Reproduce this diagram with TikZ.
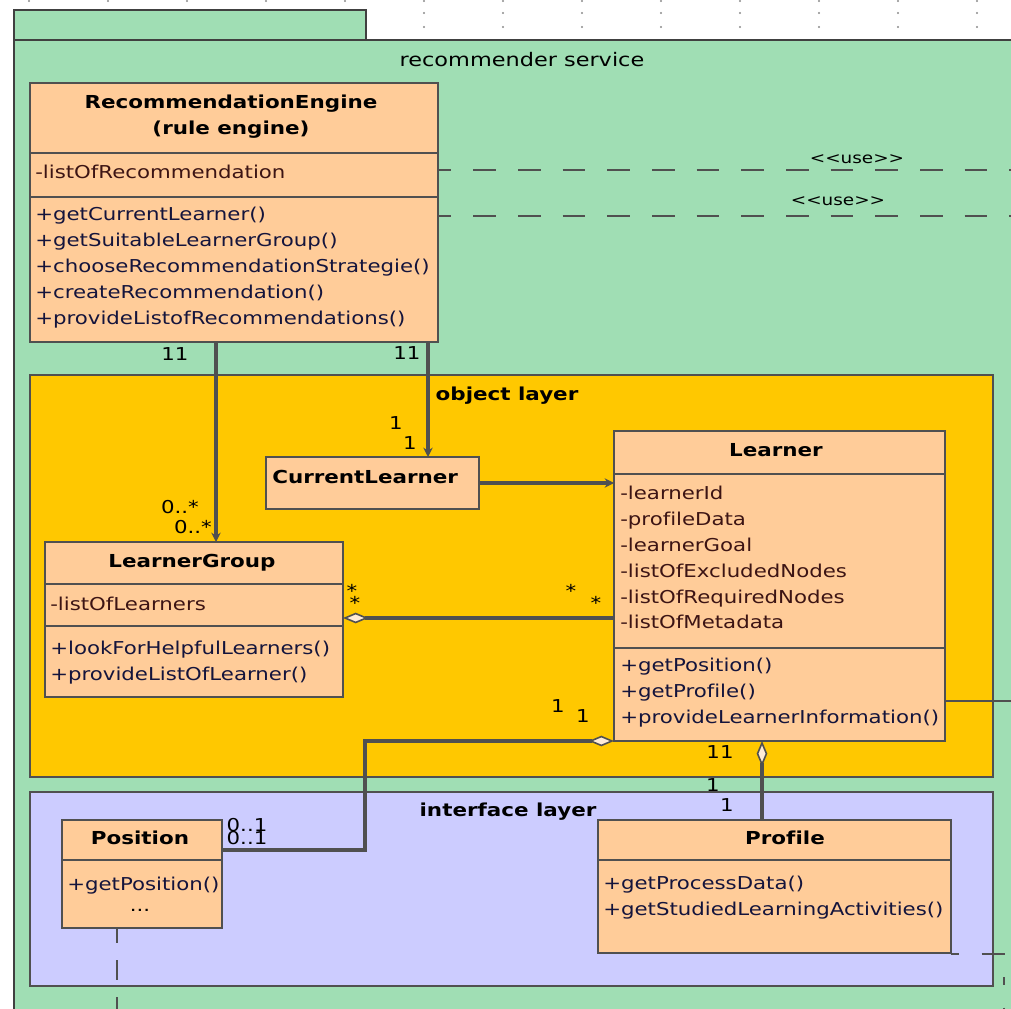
\documentclass[tikz,border=0pt]{standalone}
\usepackage{fontspec}
\setmainfont{DejaVu Sans}[FakeStretch=1.2, Ligatures=NoCommon]
\usetikzlibrary{arrows.meta,fit}
\definecolor{pkggreen}{RGB}{160,222,180}
\definecolor{objorange}{RGB}{255,200,0}
\definecolor{intlav}{RGB}{204,204,255}
\definecolor{clsfill}{RGB}{255,204,153}
\definecolor{lncol}{RGB}{80,80,80}
\definecolor{attrcol}{RGB}{60,20,20}
\definecolor{methcol}{RGB}{20,20,60}
\newcommand\bodyfont{\fontsize{13.3}{15}\selectfont}
\newcommand\headfont{\fontsize{13.4}{15}\selectfont\bfseries}
\begin{document}
\begin{tikzpicture}[x=0.75pt,y=-0.75pt,
  cls/.style={draw=lncol, fill=clsfill, line width=1.6pt, inner sep=0pt, outer sep=0pt},
  layer/.style={draw=lncol, line width=1.5pt, inner sep=0pt, outer sep=0pt},
  txt/.style={anchor=west, inner sep=0pt, text height=9.6pt, text depth=0pt, font=\bodyfont},
  attr/.style={txt, text=attrcol},
  meth/.style={txt, text=methcol},
  head/.style={anchor=center, inner sep=0pt, text height=9.8pt, text depth=0pt, font=\headfont},
  mult/.style={anchor=center, inner sep=0pt, text height=9.6pt, text depth=0pt, font=\bodyfont},
  sep/.style={draw=lncol, line width=1.4pt},
  conn/.style={draw=lncol, line width=2.3pt},
  arr/.style={conn, -{Stealth[length=7pt, width=7pt]}},
  dia/.style={conn, {Diamond[open, length=19pt, width=8pt, line width=1.2pt, fill=clsfill!40]}-},
  dep/.style={draw=lncol, line width=1.4pt, dash pattern=on 17pt off 16.5pt},
  dot/.style={fill=black!45}
]
\useasboundingbox (0,0) rectangle (1011,1009);
\fill[white] (0,0) rectangle (1011,1009);
% grid dots
\foreach \k in {0,...,12} {\fill[dot] ({29+79*\k},1) circle (0.8pt);}
\foreach \k in {5,...,12} {\fill[dot] ({29+79*\k},13) circle (0.8pt); \fill[dot] ({29+79*\k},27) circle (0.8pt);}
% package
\fill[pkggreen] (14,40) rectangle (1011,1009);
\draw[draw=black!75, line width=2.2pt, fill=pkggreen] (14,40) -- (14,10) -- (366,10) -- (366,40);
\draw[draw=black!75, line width=2.2pt] (14,1009) -- (14,40) -- (1011,40);
\node[anchor=center, inner sep=0pt, font=\fontsize{14}{16}\selectfont] (pkgname) at (522,60) {recommender service};
% layers
\node[layer, fill=objorange, fit={(30,375) (993,777)}] (objlayer) {};
\node[head] (objlabel) at (507,394) {object layer};
\node[layer, fill=intlav, fit={(30,792) (993,986)}] (intlayer) {};
\node[head] (intlabel) at (508,810) {interface layer};
% RecommendationEngine
\node[cls, fit={(30,83) (438,342)}] (re) {};
\node[head] (ren1) at (231,102) {RecommendationEngine};
\node[head] (ren2) at (231,128) {(rule engine)};
\draw[sep] (30,153) -- (438,153);
\draw[sep] (30,197) -- (438,197);
\node[attr] (rea1) at (35,172) {-listOfRecommendation};
\node[meth] (rem1) at (35,214) {+getCurrentLearner()};
\node[meth] (rem2) at (35,240) {+getSuitableLearnerGroup()};
\node[meth] (rem3) at (35,266) {+chooseRecommendationStrategie()};
\node[meth] (rem4) at (35,292) {+createRecommendation()};
\node[meth] (rem5) at (35,318) {+provideListofRecommendations()};
% CurrentLearner
\node[cls, fit={(266,457) (479,509)}] (cl) {};
\node[head, anchor=west, text height=9.8pt] (cln) at (272,477) {CurrentLearner};
% Learner
\node[cls, fit={(614,431) (945,741)}] (le) {};
\node[head] (len) at (776,450) {Learner};
\draw[sep] (614,474) -- (945,474);
\draw[sep] (614,648) -- (945,648);
\node[attr] (lea1) at (620,493) {-learnerId};
\node[attr] (lea2) at (620,519) {-profileData};
\node[attr] (lea3) at (620,545) {-learnerGoal};
\node[attr] (lea4) at (620,571) {-listOfExcludedNodes};
\node[attr] (lea5) at (620,597) {-listOfRequiredNodes};
\node[attr] (lea6) at (620,622) {-listOfMetadata};
\node[meth] (lem1) at (620,665) {+getPosition()};
\node[meth] (lem2) at (620,691) {+getProfile()};
\node[meth] (lem3) at (620,717) {+provideLearnerInformation()};
% LearnerGroup
\node[cls, fit={(45,542) (343,697)}] (lg) {};
\node[head] (lgn) at (192,561) {LearnerGroup};
\draw[sep] (45,584) -- (343,584);
\draw[sep] (45,626) -- (343,626);
\node[attr] (lga1) at (50,604) {-listOfLearners};
\node[meth] (lgm1) at (50,648) {+lookForHelpfulLearners()};
\node[meth] (lgm2) at (50,674) {+provideListOfLearner()};
% Position
\node[cls, fit={(62,820) (222,928)}] (po) {};
\node[head] (pon) at (140,838) {Position};
\draw[sep] (62,860) -- (222,860);
\node[meth] (pom1) at (67,884) {+getPosition()};
\node[mult] (pom2) at (140,905) {...};
% Profile
\node[cls, fit={(598,820) (951,953)}] (pr) {};
\node[head] (prn) at (785,838) {Profile};
\draw[sep] (598,860) -- (951,860);
\node[meth] (prm1) at (603,883) {+getProcessData()};
\node[meth] (prm2) at (603,909) {+getStudiedLearningActivities()};
% coordinates
\coordinate (reA) at (216,342);
\coordinate (lgA) at (216,542);
\coordinate (reB) at (428,342);
\coordinate (clB) at (428,457);
\coordinate (clC) at (479,483);
\coordinate (leC) at (614,483);
\coordinate (leD) at (614,618);
\coordinate (lgD) at (343,618);
\coordinate (leE) at (614,741);
\coordinate (poE) at (222,850);
\coordinate (leF) at (762,741);
\coordinate (prF) at (762,820);
\coordinate (leG) at (945,701);
\coordinate (outG) at (1011,701);
\coordinate (useA) at (438,170);
\coordinate (useAo) at (1011,170);
\coordinate (useB) at (438,216);
\coordinate (useBo) at (1011,216);
\coordinate (poH) at (117,928);
\coordinate (poHo) at (117,1009);
\coordinate (prI) at (951,954);
\coordinate (prIc) at (1004,954);
\coordinate (prIo) at (1004,1009);
% connectors
\draw[arr] (reA) -- (lgA);
\draw[arr] (reB) -- (clB);
\draw[arr] (clC) -- (leC);
\draw[dia] (lgD) -- (leD);
\draw[dia] (leE) -- (365,741) -- (365,850) -- (poE);
\draw[dia] (leF) -- (prF);
\draw[draw=lncol, line width=0.9pt] (leG) -- (outG);
\draw[dep, dash phase=7pt] (useA) -- (useAo);
\draw[dep, dash phase=7pt] (useB) -- (useBo);
\draw[dep, dash pattern=on 15pt off 13pt, dash phase=4pt] (poH) -- (poHo);
\draw[dep, dash pattern=on 6pt off 17pt on 17pt off 17pt] (prI) -- (prIc) -- (prIo);
% labels
\node[mult, font=\fontsize{11.5}{13}\selectfont] (use1) at (857,157) {<{}<use>{}>};
\node[mult, font=\fontsize{11.5}{13}\selectfont] (use2) at (838,199) {<{}<use>{}>};
\node[mult] (m1) at (175,354) {11};
\node[mult] (m2) at (180,507) {0..*};
\node[mult] (m3) at (193,527) {0..*};
\node[mult] (m4) at (407,353) {11};
\node[mult] (m5) at (396,423) {1};
\node[mult] (m6) at (410,443) {1};
\node[mult] (m7) at (352,591) {*};
\node[mult] (m8) at (355,603) {*};
\node[mult] (m9) at (571,591) {*};
\node[mult] (m10) at (596,603) {*};
\node[mult] (m11) at (558,706) {1};
\node[mult] (m12) at (583,716) {1};
\node[mult] (m13) at (247,825) {0..1};
\node[mult] (m14) at (247,838) {0..1};
\node[mult] (m15) at (720,752) {11};
\node[mult] (m16) at (713,785) {1};
\node[mult] (m17) at (727,805) {1};
\end{tikzpicture}
\end{document}
